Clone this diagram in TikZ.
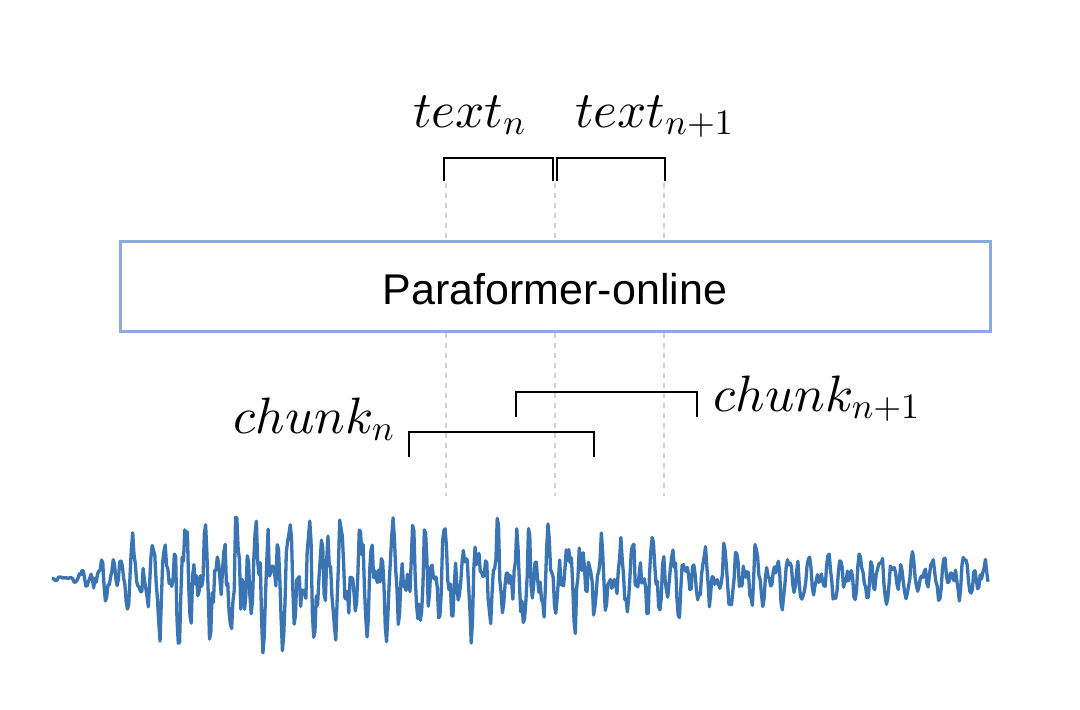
\documentclass[tikz,border=0pt]{standalone}
\usepackage{fontspec}
\setsansfont{Liberation Sans}
\DeclareFontShape{OML}{cmm}{m}{it}{<-> cmmi10}{\skewchar\font'177}
\DeclareFontShape{OT1}{cmr}{m}{n}{<-> cmr10}{}
\DeclareFontShape{OMS}{cmsy}{m}{n}{<-> cmsy10}{\skewchar\font'60}
\definecolor{boxblue}{HTML}{8EA9DB}
\definecolor{wave}{HTML}{3B74B2}
\tikzset{
  lbl/.style={inner sep=0pt, font=\fontsize{25.6}{30}\selectfont},
  pbox/.style={draw=boxblue, line width=1.5pt, fill=white, minimum width=435pt, minimum height=45pt, inner sep=0pt, text height=18.5pt, text depth=0pt, font=\sffamily\fontsize{21.5}{24}\selectfont},
  brk/.style={line width=0.75pt, black},
  guide/.style={gray!35, line width=0.6pt, dash pattern=on 2.5pt off 2.5pt},
  wavestyle/.style={wave, line width=1.65pt, line join=round}
}
\begin{document}
\begin{tikzpicture}[x=0.5pt, y=-0.5pt,
  declare function={
    amp(\t)=(24+46*exp(-((\t-300)/380)*((\t-300)/380)))*max(0.05,min(1,(\t-65)/100));
    sig(\t)=0.8*(0.55*sin(360*mod(\t,10.4)/10.4)+0.45*sin(360*mod(\t,17.3)/17.3)+0.25*sin(360*mod(\t,6.1)/6.1)+0.3*rand);
  }]
\useasboundingbox (0,0) rectangle (1080,709);
% guide lines
\coordinate (g1t) at (446,183); \coordinate (g1b) at (446,496);
\coordinate (g2t) at (555,183); \coordinate (g2b) at (555,496);
\coordinate (g3t) at (664,183); \coordinate (g3b) at (664,496);
\draw[guide] (g1t) -- (g1b);
\draw[guide] (g2t) -- (g2b);
\draw[guide] (g3t) -- (g3b);
% model box
\node[pbox] (pf) at (555,286) {Paraformer-online};
% text labels
\node[lbl, anchor=base west] (tn) at (413,127) {$text_n$};
\node[lbl, anchor=base west] (tn1) at (575,127) {$text_{n+1}$};
% text brackets
\coordinate (a1) at (444,181); \coordinate (a2) at (444,158);
\coordinate (a3) at (553,158); \coordinate (a4) at (553,181);
\draw[brk] (a1) -- (a2) -- (a3) -- (a4);
\coordinate (b1) at (557,181); \coordinate (b2) at (557,158);
\coordinate (b3) at (665,158); \coordinate (b4) at (665,181);
\draw[brk] (b1) -- (b2) -- (b3) -- (b4);
% chunk brackets
\coordinate (c1) at (409,457); \coordinate (c2) at (409,432);
\coordinate (c3) at (594,432); \coordinate (c4) at (594,457);
\draw[brk] (c1) -- (c2) -- (c3) -- (c4);
\coordinate (e1) at (516,417); \coordinate (e2) at (516,392);
\coordinate (e3) at (697,392); \coordinate (e4) at (697,417);
\draw[brk] (e1) -- (e2) -- (e3) -- (e4);
\node[lbl, anchor=base east] (cn) at (395,433) {$chunk_n$};
\node[lbl, anchor=base west] (cn1) at (713,411) {$chunk_{n+1}$};
% waveform
\pgfmathsetseed{7}
\draw[wavestyle] plot[domain=52:988, samples=720, variable=\x] (\x, {578+amp(\x)*sig(\x)});
\end{tikzpicture}
\end{document}
